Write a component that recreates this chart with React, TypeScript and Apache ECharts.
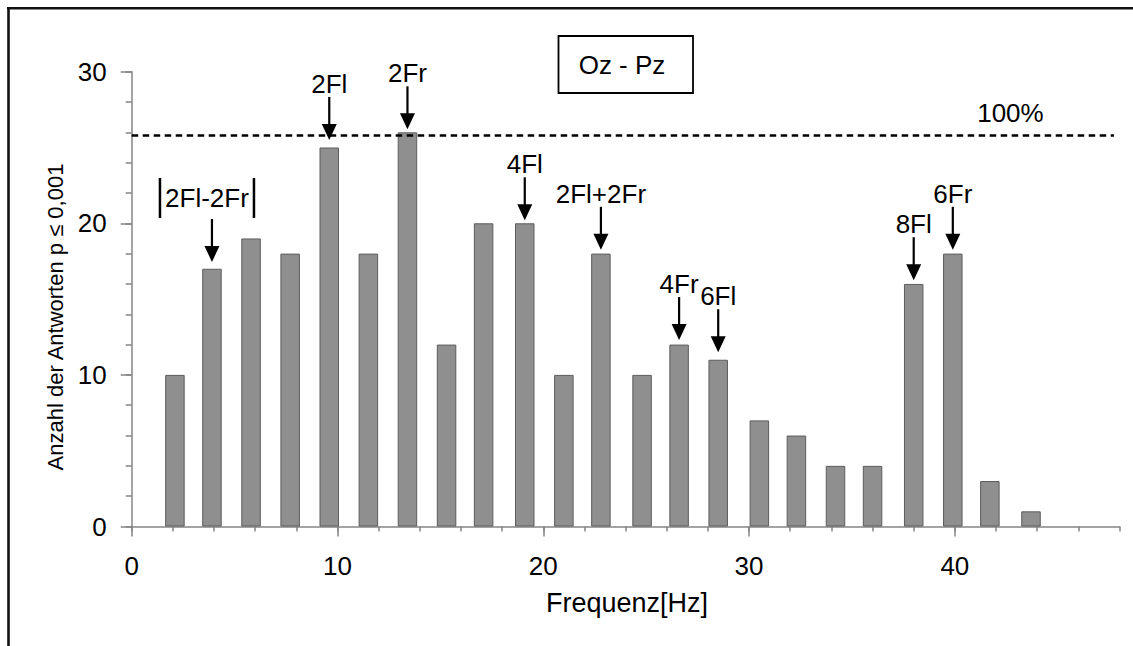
import React, { useEffect, useRef } from "react";
import * as echarts from "echarts";

const frequencies = [2.1, 3.9, 5.8, 7.7, 9.6, 11.5, 13.4, 15.3, 17.1, 19.1, 21.0, 22.8, 24.8, 26.6, 28.5, 30.5, 32.3, 34.2, 36.0, 38.0, 39.9, 41.7, 43.7];
const counts = [10, 17, 19, 18, 25, 18, 26, 12, 20, 20, 10, 18, 10, 12, 11, 7, 6, 4, 4, 16, 18, 3, 1];
const xTickLabels = [0, 10, 20, 30, 40];
const yTickLabels = [0, 10, 20, 30];
const annotationLabels = ["|2Fl-2Fr|", "2Fl", "2Fr", "4Fl", "2Fl+2Fr", "4Fr", "6Fl", "8Fl", "6Fr"];
const annotationBars = [1, 4, 6, 9, 11, 13, 14, 19, 20];
const annotationTips = [17.45, 25.5, 26.2, 20.2, 18.25, 12.3, 11.5, 16.25, 18.25];
const fullLevel = 25.8;
const fullLineEnd = 47.73;
const fullLabel = "100%";
const fullLabelX = 42.7;
const panelTitle = "Oz - Pz";
const xTitle = "Frequenz[Hz]";
const yTitle = "Anzahl der Antworten p \u2264 0,001";

const FONT = '"Liberation Sans", Arial, Helvetica, sans-serif';
const AXIS_COLOR = "#858585";

export default function App() {
  const ref = useRef<HTMLDivElement>(null);

  useEffect(() => {
    if (!ref.current) return;
    const chart = echarts.init(ref.current, undefined, { renderer: "svg" });

    const annData = annotationBars.map((b, k) => [frequencies[b], annotationTips[k], k]);

    const option: any = {
      animation: false,
      backgroundColor: "#fff",
      grid: { left: 131.7, right: 13.5, top: 71.7, bottom: 119.5, containLabel: false, outerBoundsMode: "none" },
      xAxis: [
        {
          type: "value", min: 0, max: 48, interval: 2, position: "bottom",
          axisLine: { show: true, lineStyle: { color: AXIS_COLOR, width: 1.5 } },
          axisTick: { show: true, length: 5, lineStyle: { color: AXIS_COLOR, width: 1.5 } },
          axisLabel: {
            customValues: xTickLabels,
            formatter: (v: number) => (xTickLabels.indexOf(v) >= 0 ? String(v) : ""),
            margin: 26, color: "#000", fontSize: 26, fontFamily: FONT,
          },
          splitLine: { show: false },
        },
        {
          type: "value", min: 0, max: 48, position: "bottom",
          axisLine: { show: false },
          axisTick: { show: true, customValues: xTickLabels, length: 10, lineStyle: { color: AXIS_COLOR, width: 1.5 } },
          axisLabel: { show: false },
          splitLine: { show: false },
        },
      ],
      yAxis: [
        {
          type: "value", min: 0, max: 30, interval: 2, position: "left",
          axisLine: { show: true, lineStyle: { color: AXIS_COLOR, width: 1.5 } },
          axisTick: { show: true, length: 6, lineStyle: { color: AXIS_COLOR, width: 1.5 } },
          axisLabel: {
            customValues: yTickLabels,
            formatter: (v: number) => (yTickLabels.indexOf(v) >= 0 ? String(v) : ""),
            margin: 25, color: "#000", fontSize: 26, fontFamily: FONT,
          },
          splitLine: { show: false },
        },
        {
          type: "value", min: 0, max: 30, position: "left",
          axisLine: { show: false },
          axisTick: { show: true, customValues: yTickLabels, length: 11, lineStyle: { color: AXIS_COLOR, width: 1.5 } },
          axisLabel: { show: false },
          splitLine: { show: false },
        },
      ],
      series: [
        {
          type: "bar",
          xAxisIndex: 0, yAxisIndex: 0,
          data: frequencies.map((f, i) => [f, counts[i]]),
          barWidth: 19.5,
          itemStyle: { color: "#8f8f8f", borderColor: "#5c5c5c", borderWidth: 1 },
          markLine: {
            silent: true,
            symbol: ["none", "none"],
            label: { show: false },
            lineStyle: { color: "#000", width: 2.6, type: [6.5, 4.5] },
            data: [[{ coord: [0, fullLevel] }, { coord: [fullLineEnd, fullLevel] }]],
          },
          markPoint: {
            silent: true,
            symbol: "circle",
            symbolSize: 1,
            itemStyle: { color: "rgba(0,0,0,0)" },
            label: {
              show: true, position: "inside", offset: [0, -22],
              formatter: fullLabel, color: "#000", fontSize: 26, fontFamily: FONT,
            },
            data: [{ coord: [fullLabelX, fullLevel] }],
          },
        },
        {
          type: "custom",
          xAxisIndex: 0, yAxisIndex: 0,
          data: annData,
          clip: false,
          z: 5,
          renderItem: (params: any, api: any) => {
            const x = api.value(0);
            const y = api.value(1);
            const k = api.value(2);
            const p = api.coord([x, y]);
            const label = annotationLabels[k];
            const abs = label.charAt(0) === "|";
            const text = abs ? label.slice(1, -1) : label;
            const top = p[1] - 43;
            const tx = abs ? p[0] - 5 : p[0];
            const ty = top - (abs ? 21 : 13);
            const children: any[] = [
              { type: "line", shape: { x1: p[0], y1: top, x2: p[0], y2: p[1] - 12 }, style: { stroke: "#000", lineWidth: 2.2 } },
              { type: "polygon", shape: { points: [[p[0] - 7.5, p[1] - 16], [p[0] + 7.5, p[1] - 16], [p[0], p[1]]] }, style: { fill: "#000" } },
              {
                type: "text", x: tx, y: ty,
                style: {
                  text, fill: "#000", font: `26px ${FONT}`,
                  align: "center", verticalAlign: "middle", textAlign: "center", textVerticalAlign: "middle",
                },
              },
            ];
            if (abs) {
              children.push(
                { type: "line", shape: { x1: tx - 47, y1: ty - 20, x2: tx - 47, y2: ty + 20 }, style: { stroke: "#000", lineWidth: 2.5 } },
                { type: "line", shape: { x1: tx + 47, y1: ty - 20, x2: tx + 47, y2: ty + 20 }, style: { stroke: "#000", lineWidth: 2.5 } }
              );
            }
            return { type: "group", children };
          },
        },
      ],
      graphic: [
        { type: "line", shape: { x1: 7, y1: 8.3, x2: 1133, y2: 8.3 }, style: { stroke: "#111", lineWidth: 2.6 } },
        { type: "line", shape: { x1: 8.5, y1: 7, x2: 8.5, y2: 646 }, style: { stroke: "#111", lineWidth: 2.6 } },
        { type: "rect", shape: { x: 558.5, y: 36, width: 134.5, height: 57 }, style: { fill: "#fff", stroke: "#000", lineWidth: 1.8 } },
        {
          type: "text", x: 622, y: 65,
          style: { text: panelTitle, fill: "#000", font: `26px ${FONT}`, align: "center", verticalAlign: "middle", textAlign: "center", textVerticalAlign: "middle" },
        },
        {
          type: "text", x: 627, y: 603,
          style: { text: xTitle, fill: "#000", font: `27px ${FONT}`, align: "center", verticalAlign: "middle", textAlign: "center", textVerticalAlign: "middle" },
        },
        {
          type: "text", x: 55, y: 317, rotation: Math.PI / 2,
          style: { text: yTitle, fill: "#000", font: `22px ${FONT}`, align: "center", verticalAlign: "middle", textAlign: "center", textVerticalAlign: "middle" },
        },
      ],
    };

    chart.setOption(option);
    return () => chart.dispose();
  }, []);

  return (
    <div
      ref={ref}
      style={{ position: "absolute", left: 0, top: 0, width: 1133, height: 646, background: "#fff" }}
    />
  );
}
